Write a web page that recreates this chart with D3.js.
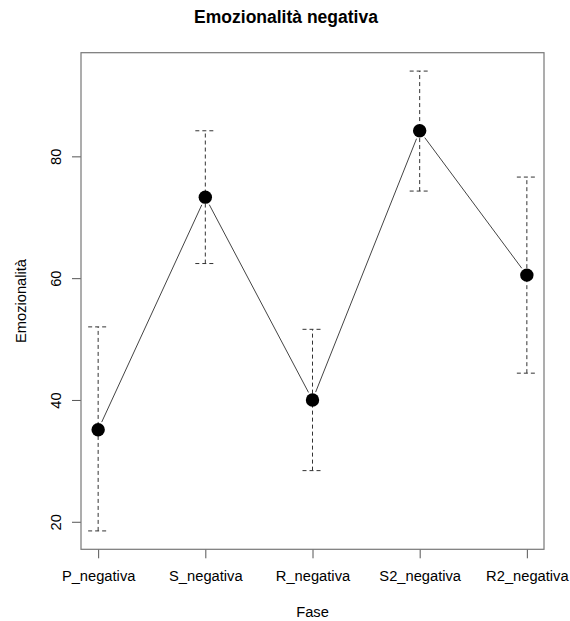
<!DOCTYPE html>
<html>
<head>
<meta charset="utf-8">
<script src="https://cdn.jsdelivr.net/npm/d3@7"></script>
<style>
  body { margin: 0; background: #fff; }
  text { font-family: "Liberation Sans", Arial, sans-serif; fill: #000; }
</style>
</head>
<body>
<div class="chart"></div>
<script>
var phases = ["P_negativa", "S_negativa", "R_negativa", "S2_negativa", "R2_negativa"];
var means = [35.1, 73.3, 40.0, 84.2, 60.5];
var lowers = [18.5, 62.4, 28.4, 74.3, 44.4];
var uppers = [52.0, 84.2, 51.6, 94.0, 76.6];
var yTicks = [20, 40, 60, 80];

function init() {
  var w = 570;
  var h = 621;
  var left = 81, right = 544, top = 52.7, bottom = 549.3;

  var dataset = phases.map(function(p, i) {
    return { phase: p, mean: means[i], lo: lowers[i], hi: uppers[i] };
  });

  var svg = d3.select(".chart")
    .append("svg")
    .attr("width", w)
    .attr("height", h);

  var xScale = d3.scalePoint()
    .domain(phases)
    .range([left, right])
    .padding(0.16);

  // R style: extend the data range by 4% each side
  var yMin = d3.min(lowers), yMax = d3.max(uppers);
  var pad = (yMax - yMin) * 0.04;
  var yScale = d3.scaleLinear()
    .domain([yMin - pad, yMax + pad])
    .range([bottom, top]);

  // error bars
  var bars = svg.append("g")
    .attr("stroke", "#333")
    .attr("stroke-width", 1)
    .attr("stroke-dasharray", "4,3")
    .attr("fill", "none");

  bars.selectAll(".whisker")
    .data(dataset)
    .enter().append("line")
    .attr("class", "whisker")
    .attr("x1", function(d) { return xScale(d.phase); })
    .attr("x2", function(d) { return xScale(d.phase); })
    .attr("y1", function(d) { return yScale(d.lo); })
    .attr("y2", function(d) { return yScale(d.hi); });

  ["lo", "hi"].forEach(function(k) {
    bars.selectAll(".cap-" + k)
      .data(dataset)
      .enter().append("line")
      .attr("class", "cap-" + k)
      .attr("x1", function(d) { return xScale(d.phase) - 10; })
      .attr("x2", function(d) { return xScale(d.phase) + 10; })
      .attr("y1", function(d) { return yScale(d[k]); })
      .attr("y2", function(d) { return yScale(d[k]); });
  });

  // connecting line with gaps near the points (type = "b")
  var gap = 8.5;
  var segs = d3.pairs(dataset);
  svg.append("g").selectAll("line")
    .data(segs)
    .enter().append("line")
    .each(function(p) {
      var x1 = xScale(p[0].phase), y1 = yScale(p[0].mean);
      var x2 = xScale(p[1].phase), y2 = yScale(p[1].mean);
      var len = Math.sqrt((x2 - x1) * (x2 - x1) + (y2 - y1) * (y2 - y1));
      var ux = (x2 - x1) / len, uy = (y2 - y1) / len;
      d3.select(this)
        .attr("x1", x1 + ux * gap).attr("y1", y1 + uy * gap)
        .attr("x2", x2 - ux * gap).attr("y2", y2 - uy * gap);
    })
    .attr("stroke", "#444")
    .attr("stroke-width", 1);

  svg.append("g").selectAll("circle")
    .data(dataset)
    .enter().append("circle")
    .attr("cx", function(d) { return xScale(d.phase); })
    .attr("cy", function(d) { return yScale(d.mean); })
    .attr("r", 6.7)
    .attr("fill", "#000");

  // axes
  var xAxis = svg.append("g")
    .attr("transform", "translate(0," + bottom + ")")
    .call(d3.axisBottom(xScale).tickSize(9).tickSizeOuter(0));
  xAxis.select(".domain").remove();
  xAxis.selectAll("line").attr("stroke", "#555");
  xAxis.selectAll("text")
    .attr("y", 32)
    .attr("dy", null)
    .style("font-size", "14.7px")
    .style("font-family", "'Liberation Sans', Arial, sans-serif");

  var yAxis = svg.append("g")
    .attr("transform", "translate(" + left + ",0)")
    .call(d3.axisLeft(yScale).tickValues(yTicks).tickSize(9).tickSizeOuter(0));
  yAxis.select(".domain").remove();
  yAxis.selectAll("line").attr("stroke", "#555");
  yAxis.selectAll("text")
    .attr("transform", "rotate(-90)")
    .attr("x", 0)
    .attr("y", -20)
    .attr("dy", null)
    .attr("text-anchor", "middle")
    .style("font-size", "14.7px")
    .style("font-family", "'Liberation Sans', Arial, sans-serif");

  // box
  svg.append("rect")
    .attr("x", left)
    .attr("y", top)
    .attr("width", right - left)
    .attr("height", bottom - top)
    .attr("fill", "none")
    .attr("stroke", "#777")
    .attr("stroke-width", 1.2);

  // titles
  svg.append("text")
    .attr("x", 286)
    .attr("y", 23.3)
    .attr("text-anchor", "middle")
    .style("font-size", "17.5px")
    .style("font-weight", "bold")
    .text("Emozionalità negativa");

  svg.append("text")
    .attr("x", (left + right) / 2)
    .attr("y", 617)
    .attr("text-anchor", "middle")
    .style("font-size", "14.7px")
    .text("Fase");

  svg.append("text")
    .attr("transform", "rotate(-90)")
    .attr("x", -(top + bottom) / 2)
    .attr("y", 26)
    .attr("text-anchor", "middle")
    .style("font-size", "14.7px")
    .text("Emozionalità");
}

window.onload = init;
</script>
</body>
</html>
